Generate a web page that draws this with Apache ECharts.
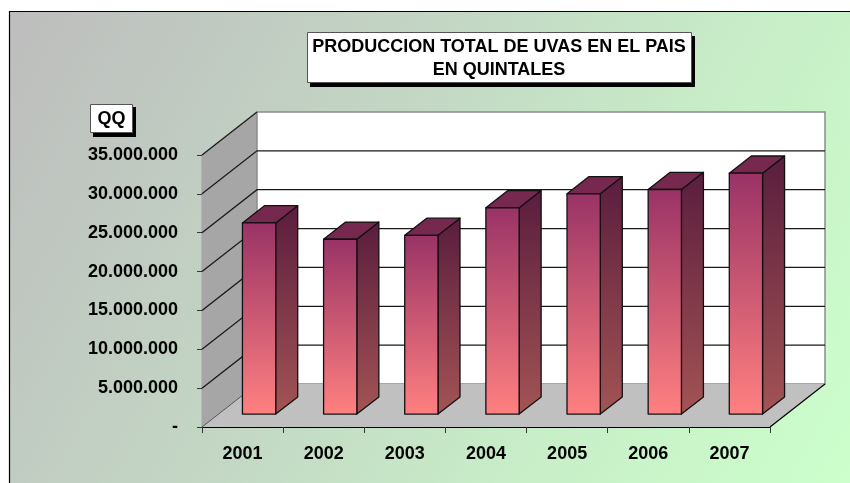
<!DOCTYPE html>
<html><head><meta charset="utf-8">
<script src="https://cdn.jsdelivr.net/npm/echarts@6/dist/echarts.min.js"></script>
<style>html,body{margin:0;padding:0;background:#fff;overflow:hidden}#c{width:850px;height:483px}</style>
</head><body><div id="c"></div>
<script>
// ---- data ----
const years = ['2001', '2002', '2003', '2004', '2005', '2006', '2007'];
const production = [24600000, 22500000, 23000000, 26550000, 28350000, 28900000, 31000000];
const yTicks = [0, 5000000, 10000000, 15000000, 20000000, 25000000, 30000000, 35000000];
const titleLines = ['PRODUCCION TOTAL DE UVAS EN EL PAIS', 'EN QUINTALES'];
const unitLabel = 'QQ';

// ---- style constants ----
const DX = 55, DY = -43;          // depth vector of the 3D box
const F0 = 0.30, F1 = 0.70;       // bar depth range (fraction of depth)
const BW = 0.41;                  // bar width (fraction of band)
const FONT = '"Liberation Sans", Arial, sans-serif';

function fmt(v) {
  if (v === 0) return '-';
  return String(v).replace(/\B(?=(\d{3})+(?!\d))/g, '.');
}

function renderWalls(params, api) {
  const cs = params.coordSys;
  const x0 = cs.x, x1 = cs.x + cs.width;
  const yb = api.coord([0, yTicks[0]])[1];
  const yt = api.coord([0, yTicks[yTicks.length - 1]])[1];
  return {
    type: 'group', children: [
      { type: 'polygon', shape: { points: [[x0, yb], [x0 + DX, yb + DY], [x0 + DX, yt + DY], [x0, yt]] },
        style: { fill: '#a6a6a6', stroke: null } },
      { type: 'rect', shape: { x: x0 + DX, y: yt + DY, width: x1 - x0, height: yb - yt },
        style: { fill: '#ffffff', stroke: '#8c8c8c', lineWidth: 1.5 } },
      { type: 'polygon', shape: { points: [[x0, yb], [x0 + DX, yb + DY], [x1 + DX, yb + DY], [x1, yb]] },
        style: { fill: '#c0c0c0', stroke: null } },
      { type: 'polyline', shape: { points: [[x1, yb], [x1 + DX, yb + DY]] },
        style: { stroke: '#000', lineWidth: 1.2, fill: null } },
      { type: 'polyline', shape: { points: [[x0, yb], [x0 + DX, yb + DY]] },
        style: { stroke: '#555', lineWidth: 1, fill: null } }
    ]
  };
}

function renderGrid(params, api) {
  const cs = params.coordSys;
  const x0 = cs.x, x1 = cs.x + cs.width;
  const v = api.value(1);
  const y = api.coord([0, v])[1];
  const last = v === yTicks[yTicks.length - 1];
  const pts = last ? [[x0, y], [x0 + DX, y + DY]] : [[x0, y], [x0 + DX, y + DY], [x1 + DX, y + DY]];
  return { type: 'polyline', shape: { points: pts }, style: { stroke: '#1a1a1a', lineWidth: 1.3, fill: null } };
}

function renderBar(params, api) {
  const i = api.value(0), v = api.value(1);
  const top = api.coord([i, v]), base = api.coord([i, 0]);
  const band = api.size([1, 0])[0];
  const w = band * BW;
  const ox = F0 * DX, oy = F0 * DY, ddx = (F1 - F0) * DX, ddy = (F1 - F0) * DY;
  const xl = top[0] - w / 2 + ox, xr = xl + w, yt = top[1] + oy, yb = base[1] + oy;
  const edge = { stroke: '#111', lineWidth: 1.3, lineJoin: 'round' };
  return {
    type: 'group', children: [
      { type: 'polygon', shape: { points: [[xr, yt], [xr + ddx, yt + ddy], [xr + ddx, yb + ddy], [xr, yb]] },
        style: Object.assign({ fill: { type: 'linear', x: 0, y: 0, x2: 0, y2: 1,
          colorStops: [{ offset: 0, color: '#5a1d3e' }, { offset: 1, color: '#a35454' }] } }, edge) },
      { type: 'polygon', shape: { points: [[xl, yt], [xl + ddx, yt + ddy], [xr + ddx, yt + ddy], [xr, yt]] },
        style: Object.assign({ fill: '#76284e' }, edge) },
      { type: 'rect', shape: { x: xl, y: yt, width: w, height: yb - yt },
        style: Object.assign({ fill: { type: 'linear', x: 0, y: 0, x2: 0, y2: 1,
          colorStops: [{ offset: 0, color: '#993366' }, { offset: 1, color: '#ff8080' }] } }, edge) }
    ]
  };
}

const chart = echarts.init(document.getElementById('c'));
chart.setOption({
  backgroundColor: '#ffffff',
  animation: false,
  graphic: [
    { type: 'rect', z: -10, shape: { x: 9.5, y: 11.5, width: 841, height: 472 },
      style: { fill: { type: 'linear', x: 0, y: 0, x2: 1, y2: 1,
        colorStops: [{ offset: 0, color: '#bdbdbd' }, { offset: 0.4, color: '#c3d6c4' }, { offset: 0.7, color: '#c8eec8' }, { offset: 1, color: '#ccffcc' }] } } },
    { type: 'polyline', z: -9, shape: { points: [[9.5, 483], [9.5, 11.5], [850, 11.5]] },
      style: { stroke: '#000', lineWidth: 1.2, fill: null } },
    { type: 'rect', z: 50, shape: { x: 310, y: 36, width: 385, height: 51 }, style: { fill: '#000' } },
    { type: 'rect', z: 51, shape: { x: 307.5, y: 32.5, width: 384, height: 50 }, style: { fill: '#fff', stroke: '#555', lineWidth: 1 } },
    { type: 'text', z: 52, style: { text: titleLines.join('\n'), x: 499, y: 36, align: 'center', verticalAlign: 'top',
        font: 'bold 18px ' + FONT, lineHeight: 23, fill: '#000' } },
    { type: 'rect', z: 50, shape: { x: 93, y: 107, width: 43, height: 30 }, style: { fill: '#000' } },
    { type: 'rect', z: 51, shape: { x: 90.5, y: 104.5, width: 42, height: 28 }, style: { fill: '#fff', stroke: '#555', lineWidth: 1 } },
    { type: 'text', z: 52, style: { text: unitLabel, x: 111.5, y: 119, align: 'center', verticalAlign: 'middle',
        font: 'bold 18px ' + FONT, fill: '#000' } }
  ],
  grid: { left: 202, top: 155, width: 568, height: 272, containLabel: false },
  xAxis: {
    type: 'category', data: years, boundaryGap: true,
    axisLine: { lineStyle: { color: '#000', width: 1.2 } },
    axisTick: { show: true, length: 6, alignWithLabel: false, lineStyle: { color: '#333' } },
    axisLabel: { color: '#000', fontSize: 18, fontWeight: 'bold', fontFamily: FONT, margin: 18 },
    splitLine: { show: false }
  },
  yAxis: {
    type: 'value', min: yTicks[0], max: yTicks[yTicks.length - 1], interval: yTicks[1] - yTicks[0],
    axisLine: { show: true, lineStyle: { color: '#000', width: 1.2 } },
    axisTick: { show: true, length: 5, lineStyle: { color: '#333' } },
    axisLabel: { color: '#000', fontSize: 18, fontWeight: 'bold', fontFamily: FONT, margin: 24, formatter: fmt },
    splitLine: { show: false }
  },
  series: [
    { type: 'custom', z: 1, coordinateSystem: 'cartesian2d', renderItem: renderWalls, data: [[0, 0]], silent: true },
    { type: 'custom', z: 2, coordinateSystem: 'cartesian2d', renderItem: renderGrid,
      data: yTicks.slice(1).map(v => [0, v]), silent: true },
    { type: 'custom', z: 3, coordinateSystem: 'cartesian2d', renderItem: renderBar,
      data: production.map((v, i) => [i, v]) }
  ]
});
</script></body></html>
